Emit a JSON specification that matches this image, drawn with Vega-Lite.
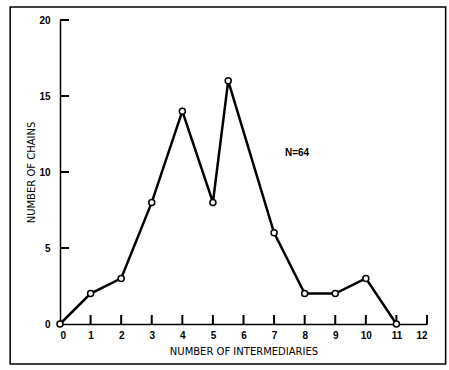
{
  "$schema": "https://vega.github.io/schema/vega-lite/v6.json",
  "width": 367,
  "height": 304,
  "autosize": "none",
  "padding": {"left": 60, "top": 20, "right": 22, "bottom": 46},
  "background": "white",
  "config": {
    "view": {"stroke": null},
    "font": "Liberation Sans",
    "axis": {"grid": false, "domainColor": "black", "domainWidth": 1.5, "ticks": false, "tickSize": 0,
      "labelOverlap": false, "labelColor": "black", "labelFontSize": 10, "labelFontWeight": "bold",
      "titleFont": "DejaVu Sans", "titleFontSize": 10, "titleFontWeight": "normal", "titleColor": "black", "zindex": 1},
    "axisX": {"tickCount": 12, "labelPadding": 6, "titlePadding": 6},
    "axisY": {"tickCount": 4, "labelPadding": 10, "titlePadding": 2}
  },
  "datasets": {
    "chains": [
      {"n": 0, "chains": 0},
      {"n": 1, "chains": 2},
      {"n": 2, "chains": 3},
      {"n": 3, "chains": 8},
      {"n": 4, "chains": 14},
      {"n": 5, "chains": 8},
      {"n": 5.5, "chains": 16},
      {"n": 7, "chains": 6},
      {"n": 8, "chains": 2},
      {"n": 9, "chains": 2},
      {"n": 10, "chains": 3},
      {"n": 11, "chains": 0}
    ],
    "xticks": [{"v": 1}, {"v": 2}, {"v": 3}, {"v": 4}, {"v": 5}, {"v": 6}, {"v": 7}, {"v": 8}, {"v": 9}, {"v": 10}, {"v": 11}, {"v": 12}],
    "yticks": [{"v": 5}, {"v": 10}, {"v": 15}, {"v": 20}]
  },
  "data": {"name": "chains"},
  "layer": [
    {
      "mark": {"type": "line", "color": "black", "strokeWidth": 2.5},
      "encoding": {
        "x": {"field": "n", "type": "quantitative", "title": "NUMBER OF INTERMEDIARIES", "scale": {"domain": [0, 12], "nice": false, "zero": false}},
        "y": {"field": "chains", "type": "quantitative", "title": "NUMBER OF CHAINS", "scale": {"domain": [0, 20], "nice": false, "zero": false}}
      }
    },
    {
      "data": {"name": "xticks"},
      "mark": {"type": "tick", "orient": "vertical", "color": "black", "size": 9, "thickness": 2, "yOffset": -4.5, "opacity": 1},
      "encoding": {
        "x": {"field": "v", "type": "quantitative", "title": "NUMBER OF INTERMEDIARIES"},
        "y": {"datum": 0, "type": "quantitative"}
      }
    },
    {
      "data": {"name": "yticks"},
      "mark": {"type": "tick", "orient": "horizontal", "color": "black", "size": 9, "thickness": 2, "xOffset": 4.5, "opacity": 1},
      "encoding": {
        "y": {"field": "v", "type": "quantitative", "title": "NUMBER OF CHAINS"},
        "x": {"datum": 0, "type": "quantitative"}
      }
    },
    {
      "data": {"values": [{"x1": -1.63, "x2": 12.61, "y1": -2.63, "y2": 20.86}]},
      "mark": {"type": "rect", "filled": false, "stroke": "black", "strokeWidth": 1.5, "clip": false},
      "encoding": {
        "x": {"field": "x1", "type": "quantitative", "title": "NUMBER OF INTERMEDIARIES"},
        "x2": {"field": "x2"},
        "y": {"field": "y1", "type": "quantitative", "title": "NUMBER OF CHAINS"},
        "y2": {"field": "y2"}
      }
    },
    {
      "mark": {"type": "point", "shape": "circle", "filled": true, "fill": "white", "stroke": "black", "strokeWidth": 1.5, "size": 36, "opacity": 1},
      "encoding": {
        "x": {"field": "n", "type": "quantitative", "title": "NUMBER OF INTERMEDIARIES"},
        "y": {"field": "chains", "type": "quantitative", "title": "NUMBER OF CHAINS"}
      }
    },
    {
      "data": {"values": [{"x": 7.75, "y": 11.25, "label": "N=64"}]},
      "mark": {"type": "text", "fontSize": 10, "fontWeight": "bold", "color": "black"},
      "encoding": {
        "x": {"field": "x", "type": "quantitative", "title": "NUMBER OF INTERMEDIARIES"},
        "y": {"field": "y", "type": "quantitative", "title": "NUMBER OF CHAINS"},
        "text": {"field": "label"}
      }
    }
  ]
}
